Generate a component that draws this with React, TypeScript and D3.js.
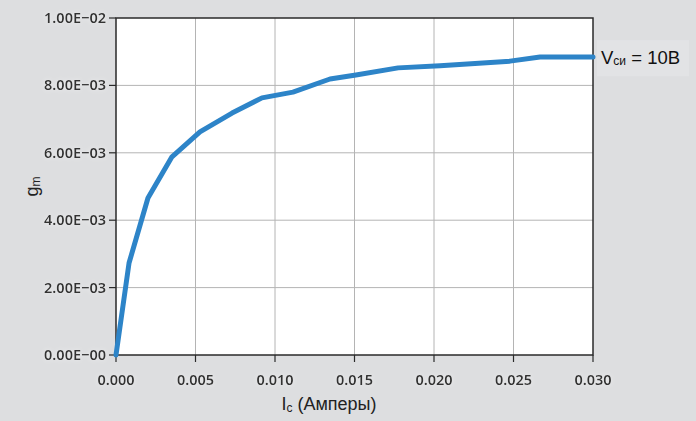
import { useEffect, useRef } from "react";
import * as d3 from "d3";

// drain current, A
const current = [0, 0.00082, 0.00201, 0.00352, 0.00528, 0.0073, 0.00918, 0.01113, 0.01346, 0.01509, 0.01774, 0.02038, 0.02478, 0.02667, 0.03];
// transconductance
const gm = [0, 0.00273, 0.00466, 0.00588, 0.00662, 0.00718, 0.00763, 0.0078, 0.00819, 0.00831, 0.00852, 0.00858, 0.00872, 0.00884, 0.00884];

const xTicks = [0, 0.005, 0.01, 0.015, 0.02, 0.025, 0.03];
const yTicks = [0, 0.002, 0.004, 0.006, 0.008, 0.01];
const yTickLabels = ["0.00E\u221200", "2.00E\u221203", "4.00E\u221203", "6.00E\u221203", "8.00E\u221203", "1.00E\u221202"];

export default function App() {
  const ref = useRef<SVGSVGElement>(null);

  useEffect(() => {
    if (!ref.current) return;
    const svg = d3.select(ref.current);
    svg.selectAll("*").remove();

    const width = 696;
    const height = 421;
    const m = { left: 116, right: 103, top: 18, bottom: 66 };

    const x = d3.scaleLinear().domain([0, 0.03]).range([m.left, width - m.right]);
    const y = d3.scaleLinear().domain([0, 0.01]).range([height - m.bottom, m.top]);

    svg.append("rect").attr("width", width).attr("height", height).attr("fill", "#dddee0");

    const defs = svg.append("defs");
    const f = defs.append("filter").attr("id", "glow").attr("x", "-20%").attr("y", "-40%").attr("width", "140%").attr("height", "180%");
    f.append("feGaussianBlur").attr("in", "SourceAlpha").attr("stdDeviation", 2).attr("result", "b");
    f.append("feFlood").attr("flood-color", "#ffffff").attr("flood-opacity", 0.5);
    f.append("feComposite").attr("in2", "b").attr("operator", "in").attr("result", "g");
    const merge = f.append("feMerge");
    merge.append("feMergeNode").attr("in", "g");
    merge.append("feMergeNode").attr("in", "SourceGraphic");

    svg.append("rect")
      .attr("x", x(0)).attr("y", y(0.01))
      .attr("width", x(0.03) - x(0)).attr("height", y(0) - y(0.01))
      .attr("fill", "#ffffff");

    // grid
    svg.append("g").selectAll("line").data(xTicks.slice(1, -1)).join("line")
      .attr("x1", (d) => x(d)).attr("x2", (d) => x(d))
      .attr("y1", y(0)).attr("y2", y(0.01))
      .attr("stroke", "#b4b4b4").attr("stroke-width", 1);
    svg.append("g").selectAll("line").data(yTicks.slice(1, -1)).join("line")
      .attr("x1", x(0)).attr("x2", x(0.03))
      .attr("y1", (d) => y(d)).attr("y2", (d) => y(d))
      .attr("stroke", "#b4b4b4").attr("stroke-width", 1);

    // frame
    svg.append("rect")
      .attr("x", x(0)).attr("y", y(0.01))
      .attr("width", x(0.03) - x(0)).attr("height", y(0) - y(0.01))
      .attr("fill", "none").attr("stroke", "#2a2a2a").attr("stroke-width", 1.5);

    const tickFont = "'Noto Sans', sans-serif";

    // x ticks
    const gx = svg.append("g");
    gx.selectAll("line").data(xTicks).join("line")
      .attr("x1", (d) => x(d)).attr("x2", (d) => x(d))
      .attr("y1", y(0)).attr("y2", y(0) + 7)
      .attr("stroke", "#2a2a2a").attr("stroke-width", 1.2);
    gx.selectAll("text").data(xTicks).join("text")
      .attr("x", (d) => x(d)).attr("y", y(0) + 30)
      .attr("text-anchor", "middle")
      .attr("font-family", tickFont).attr("font-weight", 600).attr("font-size", 14.5)
      .attr("fill", "#333").attr("filter", "url(#glow)")
      .text((d) => d3.format(".3f")(d));

    // y ticks
    const gy = svg.append("g");
    gy.selectAll("line").data(yTicks).join("line")
      .attr("x1", x(0) - 7).attr("x2", x(0))
      .attr("y1", (d) => y(d)).attr("y2", (d) => y(d))
      .attr("stroke", "#2a2a2a").attr("stroke-width", 1.2);
    gy.selectAll("text").data(yTicks).join("text")
      .attr("x", x(0) - 10).attr("y", (d) => y(d) + 5)
      .attr("text-anchor", "end")
      .attr("font-family", tickFont).attr("font-weight", 600).attr("font-size", 14.5)
      .attr("fill", "#333").attr("filter", "url(#glow)")
      .text((d, i) => yTickLabels[i]);

    // curve
    const pts = current.map((c, i) => [c, gm[i]] as [number, number]);
    svg.append("path")
      .datum(pts)
      .attr("fill", "none")
      .attr("stroke", "#2d84c8")
      .attr("stroke-width", 5)
      .attr("stroke-linejoin", "round")
      .attr("stroke-linecap", "round")
      .attr("d", d3.line<[number, number]>().x((d) => x(d[0])).y((d) => y(d[1])));

    // axis titles
    const lab = "'Liberation Sans', Arial, sans-serif";
    const xt = svg.append("text")
      .attr("x", 329).attr("y", 410)
      .attr("text-anchor", "middle")
      .attr("font-family", lab).attr("font-size", 18).attr("fill", "#222");
    xt.append("tspan").text("I");
    xt.append("tspan").attr("font-size", 12).attr("dy", 2).text("c");
    xt.append("tspan").attr("dy", -2).text(" (Амперы)");

    const yt = svg.append("text")
      .attr("transform", `translate(38,${(y(0) + y(0.01)) / 2}) rotate(-90)`)
      .attr("text-anchor", "middle")
      .attr("font-family", lab).attr("font-size", 18).attr("fill", "#222");
    yt.append("tspan").text("g");
    yt.append("tspan").attr("font-size", 12).attr("dy", 2).text("m");

    // series label
    const last = pts[pts.length - 1];
    svg.append("rect")
      .attr("x", x(last[0]) + 4).attr("y", y(last[1]) - 17)
      .attr("width", 92).attr("height", 36)
      .attr("fill", "#e2e3e5");
    const vt = svg.append("text")
      .attr("x", x(last[0]) + 8).attr("y", y(last[1]) + 7)
      .attr("font-family", lab).attr("font-size", 18.5).attr("fill", "#111");
    vt.append("tspan").text("V");
    vt.append("tspan").attr("font-size", 12).attr("dy", 1).text("си");
    vt.append("tspan").attr("dy", -1).text(" = 10В");
  }, []);

  return (
    <svg
      ref={ref}
      width={696}
      height={421}
      style={{ position: "absolute", left: 0, top: 0, display: "block" }}
    />
  );
}
